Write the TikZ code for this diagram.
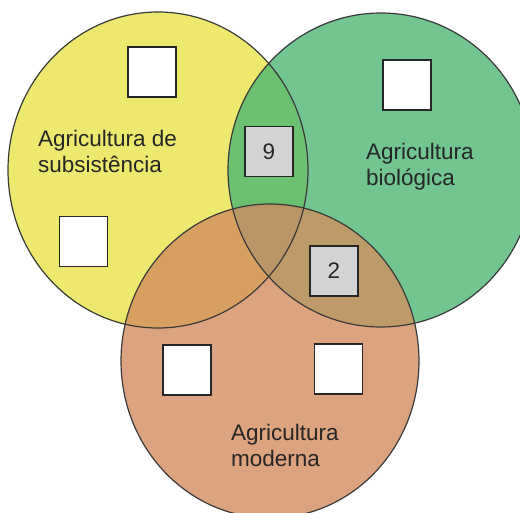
\documentclass[tikz,border=0pt]{standalone}
\usepackage{fontspec}
\setmainfont{Liberation Sans}
\definecolor{cy}{RGB}{236,233,110}
\definecolor{cg}{RGB}{114,196,144}
\definecolor{co}{RGB}{219,163,128}
\definecolor{cyg}{RGB}{108,192,114}
\definecolor{cyo}{RGB}{216,160,96}
\definecolor{cgo}{RGB}{189,154,106}
\definecolor{cygo}{RGB}{184,150,104}
\definecolor{boxgray}{RGB}{210,211,213}
\definecolor{edge}{RGB}{58,58,58}
\definecolor{ink}{RGB}{38,38,38}
\begin{document}
\begin{tikzpicture}[x=1pt,y=-1pt,
  venn/.style={draw=edge,line width=1.2pt},
  blank/.style={draw=ink,line width=1.4pt,fill=white,minimum width=48pt,minimum height=50pt,inner sep=0pt},
  numbox/.style={blank,fill=boxgray,font=\fontsize{22.5}{26}\selectfont,text=ink},
  lbl/.style={anchor=north west,inner sep=0pt,align=left,font=\fontsize{22.5}{26}\selectfont,text=ink}]
\useasboundingbox (0,0) rectangle (520,512);
\coordinate (Y) at (158,170);
\coordinate (G) at (381,170);
\coordinate (O) at (270,361);
% base fills
\fill[cy] (Y) ellipse[x radius=150pt,y radius=158pt];
\fill[cg] (G) ellipse[x radius=153pt,y radius=157pt];
\fill[co] (O) ellipse[x radius=149pt,y radius=157pt];
% overlaps
\begin{scope}
  \clip (Y) ellipse[x radius=150pt,y radius=158pt];
  \fill[cyg] (G) ellipse[x radius=153pt,y radius=157pt];
  \fill[cyo] (O) ellipse[x radius=149pt,y radius=157pt];
\end{scope}
\begin{scope}
  \clip (G) ellipse[x radius=153pt,y radius=157pt];
  \fill[cgo] (O) ellipse[x radius=149pt,y radius=157pt];
  \clip (Y) ellipse[x radius=150pt,y radius=158pt];
  \fill[cygo] (O) ellipse[x radius=149pt,y radius=157pt];
\end{scope}
% outlines
\draw[venn] (Y) ellipse[x radius=150pt,y radius=158pt];
\draw[venn] (G) ellipse[x radius=153pt,y radius=157pt];
\draw[venn] (O) ellipse[x radius=149pt,y radius=157pt];
% boxes
\node[blank] (y1) at (152,72) {};
\node[blank] (y2) at (83.5,241.5) {};
\node[blank] (g1) at (407,85) {};
\node[numbox] (yg) at (269,151.5) {9};
\node[numbox] (go) at (334,271) {2};
\node[blank] (o1) at (187,370) {};
\node[blank] (o2) at (338.5,369) {};
% labels
\node[lbl] (ls) at (38,130) {Agricultura de\\subsistência};
\node[lbl] (lb) at (366,143) {Agricultura\\biológica};
\node[lbl] (lm) at (231,424) {Agricultura\\moderna};
\end{tikzpicture}
\end{document}
